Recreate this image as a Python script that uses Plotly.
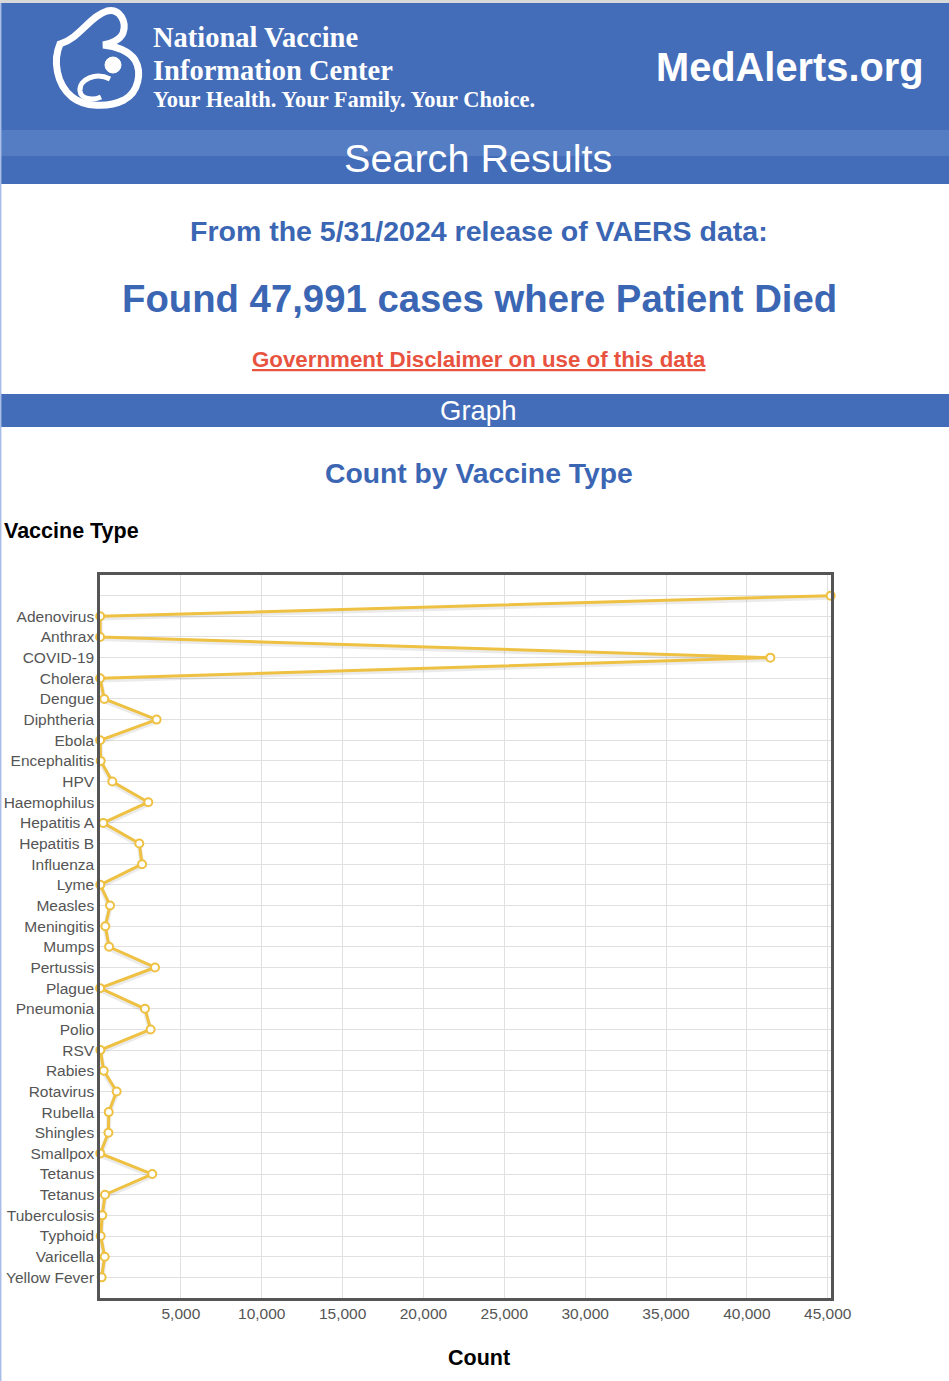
import plotly.graph_objects as go

W, H = 949, 1381

# ---------------- data ----------------
vaccine_types = ["", "Adenovirus", "Anthrax", "COVID-19", "Cholera", "Dengue", "Diphtheria",
                 "Ebola", "Encephalitis", "HPV", "Haemophilus", "Hepatitis A", "Hepatitis B",
                 "Influenza", "Lyme", "Measles", "Meningitis", "Mumps", "Pertussis", "Plague",
                 "Pneumonia", "Polio", "RSV", "Rabies", "Rotavirus", "Rubella", "Shingles",
                 "Smallpox", "Tetanus", "Tetanus", "Tuberculosis", "Typhoid", "Varicella",
                 "Yellow Fever"]
counts = [45180, 10, 5, 41450, 5, 265, 3500, 5, 40, 760, 2985, 200, 2430, 2600, 15, 620,
          330, 560, 3400, 5, 2780, 3130, 20, 230, 1030, 540, 520, 15, 3230, 310, 140, 40,
          290, 100]
x_ticks = [5000, 10000, 15000, 20000, 25000, 30000, 35000, 40000, 45000]

BLUE = "#436cb9"
TEXT_BLUE = "#3b66b4"
GOLD = "#eec143"


def px(x):
    return x / W


def py(y):
    return 1 - y / H


def path(cmds):
    out = []
    for c in cmds:
        if isinstance(c, str):
            out.append(c)
        else:
            out.append(f"{px(c[0]):.5f},{py(c[1]):.5f}")
    return " ".join(out)


idx = list(range(len(vaccine_types)))

fig = go.Figure()
# soft shadow under the line
fig.add_trace(go.Scatter(x=counts, y=[i + 0.08 for i in idx], mode="lines",
                         line=dict(color="rgba(90,90,90,0.12)", width=5),
                         hoverinfo="skip", showlegend=False, cliponaxis=False))
fig.add_trace(go.Scatter(x=counts, y=idx, mode="lines+markers",
                         line=dict(color=GOLD, width=3),
                         marker=dict(symbol="circle", size=8, color="white",
                                     line=dict(color=GOLD, width=2)),
                         showlegend=False, cliponaxis=False))

fig.update_layout(
    width=W, height=H, autosize=False,
    margin=dict(l=0, r=0, t=0, b=0, pad=0),
    paper_bgcolor="white", plot_bgcolor="white",
    font=dict(family="Liberation Sans, Arial, sans-serif"),
    xaxis=dict(domain=[px(100), px(831)], range=[0, 45200], automargin=False,
               tickvals=x_ticks, tickformat=",",
               tickfont=dict(size=15.5, color="#555"),
               showgrid=True, gridcolor="#e0e0e0", gridwidth=1,
               zeroline=False, showline=True, mirror=True,
               linecolor="#555", linewidth=2.5, ticks=""),
    yaxis=dict(domain=[py(1298), py(575)], range=[34, -1], automargin=False,
               tickvals=idx, ticktext=vaccine_types,
               tickfont=dict(size=15.5, color="#555"),
               showgrid=True, gridcolor="#e0e0e0", gridwidth=1,
               zeroline=False, showline=True, mirror=True,
               linecolor="#555", linewidth=2.5, ticks=""),
)

shapes = []
# top thin grey line
shapes.append(dict(type="rect", xref="paper", yref="paper", x0=0, x1=1, y0=py(3), y1=1,
                   fillcolor="#d9d9d9", line=dict(width=0), layer="below"))
# header band
shapes.append(dict(type="rect", xref="paper", yref="paper", x0=0, x1=1, y0=py(184), y1=py(3),
                   fillcolor=BLUE, line=dict(width=0), layer="below"))
# lighter stripe
shapes.append(dict(type="rect", xref="paper", yref="paper", x0=0, x1=1, y0=py(156), y1=py(130),
                   fillcolor="#557dc3", line=dict(width=0), layer="below"))
# Graph band
shapes.append(dict(type="rect", xref="paper", yref="paper", x0=0, x1=1, y0=py(427), y1=py(394),
                   fillcolor=BLUE, line=dict(width=0), layer="below"))
# left border line
shapes.append(dict(type="line", xref="paper", yref="paper", x0=px(0.7), x1=px(0.7), y0=0, y1=py(3),
                   line=dict(color="#a9bde6", width=1.5)))

# logo (white stylised mother and child)
shapes.append(dict(type="path", xref="paper", yref="paper",
                   path=path(["M", (60, 44), "C", (80, 38), (90, 16), (107, 11),
                              "C", (120, 8), (127, 22), (123, 33),
                              "C", (120, 40), (110, 44), (103, 45),
                              "C", (116, 46), (129, 51), (135, 60),
                              "C", (142, 72), (139, 92), (124, 100),
                              "C", (108, 108), (84, 107), (72, 97),
                              "C", (56, 84), (53, 60), (60, 44), "Z"]),
                   line=dict(color="white", width=7)))
shapes.append(dict(type="circle", xref="paper", yref="paper",
                   x0=px(105), x1=px(121), y0=py(73), y1=py(57),
                   fillcolor="white", line=dict(color="white", width=1)))
shapes.append(dict(type="path", xref="paper", yref="paper",
                   path=path(["M", (110, 79), "C", (96, 72), (79, 79), (80, 91),
                              "C", (81, 99), (92, 101), (101, 97)]),
                   line=dict(color="white", width=5)))

fig.update_layout(shapes=shapes)

ann = []


def text(t, x, y, size, color, xanchor="center", family="Liberation Sans, Arial, sans-serif"):
    ann.append(dict(text=t, x=px(x), y=py(y), xref="paper", yref="paper",
                    xanchor=xanchor, yanchor="middle", showarrow=False,
                    font=dict(size=size, color=color, family=family)))


SERIF = "Liberation Serif, Times New Roman, serif"
text("<b>National Vaccine</b>", 151, 38, 28.5, "white", "left", SERIF)
text("<b>Information Center</b>", 151, 71, 28.5, "white", "left", SERIF)
text("<b>Your Health. Your Family. Your Choice.</b>", 151, 99, 22.5, "white", "left", SERIF)
text("<b>MedAlerts.org</b>", 926, 67, 39.8, "white", "right")
text("Search Results", 478, 158, 39.6, "white")
text("<b>From the 5/31/2024 release of VAERS data:</b>", 479, 231, 28.5, TEXT_BLUE)
text("<b>Found 47,991 cases where Patient Died</b>", 479, 299, 38.3, TEXT_BLUE)
text("<b><u>Government Disclaimer on use of this data</u></b>", 479, 359, 22.3, "#e8533f")
text("Graph", 478, 411, 27.5, "white")
text("<b>Count by Vaccine Type</b>", 479, 473, 28.3, TEXT_BLUE)
text("<b>Vaccine Type</b>", 2, 531, 21.5, "black", "left")
text("<b>Count</b>", 479, 1358, 21.5, "black")

fig.update_layout(annotations=ann)

fig.write_html("out.html", config={"displayModeBar": False},
               post_script="document.documentElement.style.margin='0';document.body.style.margin='0';")
